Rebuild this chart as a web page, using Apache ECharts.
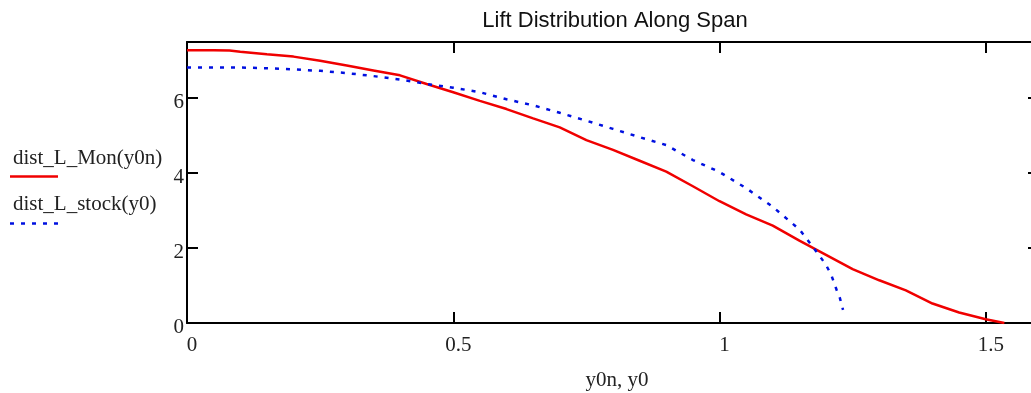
<!DOCTYPE html>
<html>
<head>
<meta charset="utf-8">
<script src="https://cdn.jsdelivr.net/npm/echarts@6/dist/echarts.min.js"></script>
<style>
  html, body { margin: 0; padding: 0; background: #fff; overflow: hidden; }
  /* the plot frame runs slightly past the right edge of the window */
  #chart { width: 1040px; height: 393px; }
</style>
</head>
<body>
<div id="chart"></div>
<script>
// Spanwise lift distributions: [spanwise position, lift per unit span]
const monX = [0, 0.05, 0.08, 0.1, 0.15, 0.2, 0.25, 0.3, 0.35, 0.4, 0.45, 0.5, 0.55, 0.6, 0.65, 0.7, 0.75, 0.8, 0.85, 0.9, 0.95, 1.0, 1.05, 1.1, 1.15, 1.2, 1.25, 1.3, 1.35, 1.4, 1.45, 1.5, 1.535];
const monY = [7.28, 7.28, 7.27, 7.24, 7.17, 7.11, 7.0, 6.87, 6.74, 6.61, 6.38, 6.16, 5.93, 5.71, 5.46, 5.22, 4.88, 4.62, 4.33, 4.04, 3.65, 3.25, 2.9, 2.6, 2.2, 1.82, 1.44, 1.14, 0.87, 0.52, 0.28, 0.1, 0];

const stockX = [0, 0.05, 0.1, 0.15, 0.2, 0.25, 0.3, 0.35, 0.4, 0.45, 0.5, 0.55, 0.6, 0.65, 0.7, 0.75, 0.8, 0.85, 0.9, 0.95, 1.0, 1.05, 1.1, 1.15, 1.17, 1.19, 1.2, 1.21, 1.22, 1.226, 1.232];
const stockY = [6.82, 6.82, 6.82, 6.8, 6.77, 6.73, 6.67, 6.59, 6.5, 6.38, 6.28, 6.16, 5.97, 5.81, 5.61, 5.4, 5.18, 4.96, 4.75, 4.35, 4.03, 3.6, 3.1, 2.5, 2.13, 1.75, 1.55, 1.28, 0.88, 0.67, 0.35];

const xTicks = [0, 0.5, 1, 1.5];
const yTicks = [0, 2, 4, 6];

const seriesNames = ['dist_L_Mon(y0n)', 'dist_L_stock(y0)'];
const titleText = 'Lift Distribution Along Span';
const xName = 'y0n, y0';

const pair = (xs, ys) => xs.map((x, i) => [x, ys[i]]);

const serif = 'Liberation Serif';
const tickFont = { fontFamily: serif, fontSize: 21, color: '#222' };
// Frame edges stay on the plot border instead of snapping to the zero line
const axisLine = { show: true, onZero: false, lineStyle: { color: '#000', width: 2 } };
const tickIn = { show: true, inside: true, length: 11, lineStyle: { color: '#000', width: 2 } };

const chart = echarts.init(document.getElementById('chart'), null, { renderer: 'canvas' });
chart.setOption({
  animation: false,
  backgroundColor: '#fff',
  title: {
    text: titleText,
    left: 610, top: 5, textAlign: 'center',
    textStyle: { fontFamily: 'Liberation Sans', fontSize: 22, fontWeight: 'normal', color: '#111' }
  },
  grid: { left: 187, right: 1, top: 42, bottom: 70, outerBoundsMode: 'none' },
  xAxis: [
    {
      type: 'value', position: 'bottom', min: 0, max: 1.6, interval: 0.5,
      axisLine: axisLine, axisTick: { ...tickIn, customValues: xTicks }, splitLine: { show: false },
      axisLabel: {
        ...tickFont, margin: 12, padding: [0, 0, 0, 10],
        customValues: xTicks,
        formatter: v => String(v)
      },
      name: xName, nameLocation: 'middle', nameGap: 47,
      nameTextStyle: { fontFamily: serif, fontSize: 21, color: '#222', padding: [0, 0, 0, 8] }
    },
    {
      type: 'value', position: 'top', min: 0, max: 1.6, interval: 0.5,
      axisLine: axisLine, axisTick: { ...tickIn, customValues: xTicks }, axisLabel: { show: false }, splitLine: { show: false }
    }
  ],
  yAxis: [
    {
      type: 'value', position: 'left', min: 0, max: 7.5, interval: 2,
      axisLine: axisLine, axisTick: { ...tickIn, customValues: yTicks }, splitLine: { show: false },
      axisLabel: { ...tickFont, margin: 3, verticalAlign: 'top', lineHeight: 8, customValues: yTicks }
    },
    {
      type: 'value', position: 'right', min: 0, max: 7.5, interval: 2,
      axisLine: axisLine, axisTick: { ...tickIn, customValues: yTicks }, axisLabel: { show: false }, splitLine: { show: false }
    }
  ],
  series: [
    {
      name: seriesNames[0], type: 'line', data: pair(monX, monY),
      showSymbol: false, smooth: false, clip: true,
      lineStyle: { color: '#f00000', width: 2.5 }
    },
    {
      name: seriesNames[1], type: 'line', data: pair(stockX, stockY),
      showSymbol: false, smooth: false, clip: true,
      lineStyle: { color: '#0010e0', width: 2.5, type: [4, 7] }
    }
  ],
  graphic: [
    { type: 'text', x: 13, y: 158, style: { text: seriesNames[0], fontFamily: serif, fontSize: 21, fill: '#222', verticalAlign: 'middle' } },
    { type: 'line', shape: { x1: 10, y1: 176.5, x2: 58, y2: 176.5 }, style: { stroke: '#f00000', lineWidth: 2.5 } },
    { type: 'text', x: 13, y: 204, style: { text: seriesNames[1], fontFamily: serif, fontSize: 21, fill: '#222', verticalAlign: 'middle' } },
    { type: 'line', shape: { x1: 10, y1: 223.5, x2: 58, y2: 223.5 }, style: { stroke: '#0010e0', lineWidth: 2.5, lineDash: [4, 7] } }
  ]
});
</script>
</body>
</html>
